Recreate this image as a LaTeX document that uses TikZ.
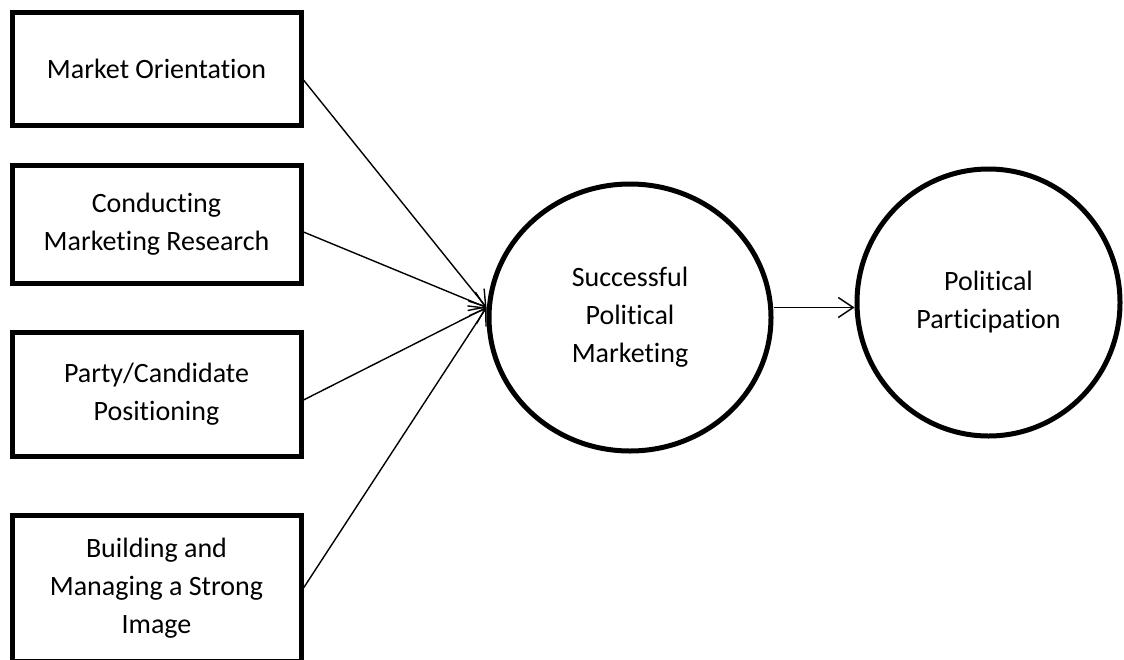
\documentclass[tikz,border=0pt]{standalone}
\usepackage{fontspec}
\setmainfont{Carlito}[RawFeature=-liga]
\usetikzlibrary{shapes.geometric,arrows.meta}

\tikzset{
  factor/.style={draw, line width=5pt, minimum width=289pt, inner sep=0pt,
    align=center, font=\fontsize{28}{38}\selectfont},
  construct/.style={draw, ellipse, line width=5pt, inner sep=0pt,
    align=center, font=\fontsize{28}{38}\selectfont},
  link/.style={line width=1.4pt, -{Straight Barb[length=15pt,width=20pt]}}
}

\begin{document}
\begin{tikzpicture}[x=1pt,y=-1pt]
    \useasboundingbox (0,0) rectangle (1124,659);
    \clip (0,0) rectangle (1124,659);

    % Faktoren links
    \node[factor, minimum height=113pt] (mo)   at (156.5,68.5) {Market Orientation};
    \node[factor, minimum height=118pt] (cmr)  at (156.5,224)  {Conducting\\Marketing Research};
    \node[factor, minimum height=124pt] (pcp)  at (156.5,394)  {Party/Candidate\\Positioning};
    \node[factor, minimum height=146pt] (bmsi) at (156.5,588)  {Building and\\Managing a Strong\\Image};

    % Konstrukte
    \node[construct, minimum width=282pt, minimum height=267pt] (spm) at (630,317.5) {Successful\\Political\\Marketing};
    \node[construct, minimum width=263pt, minimum height=267pt] (pp)  at (988.5,302.5) {Political\\Participation};

    \coordinate (hub) at ([yshift=10pt]spm.west);

    % Pfeile
    \draw[link] ([yshift=-11.5pt]mo.east) -- (hub);
    \draw[link] ([yshift=-8pt]cmr.east) -- (hub);
    \draw[link] ([yshift=-6pt]pcp.east) -- (hub);
    \draw[link] (bmsi.east) -- (hub);
    \draw[link] (spm.east |- hub) -- (pp.west |- hub);
\end{tikzpicture}
\end{document}
